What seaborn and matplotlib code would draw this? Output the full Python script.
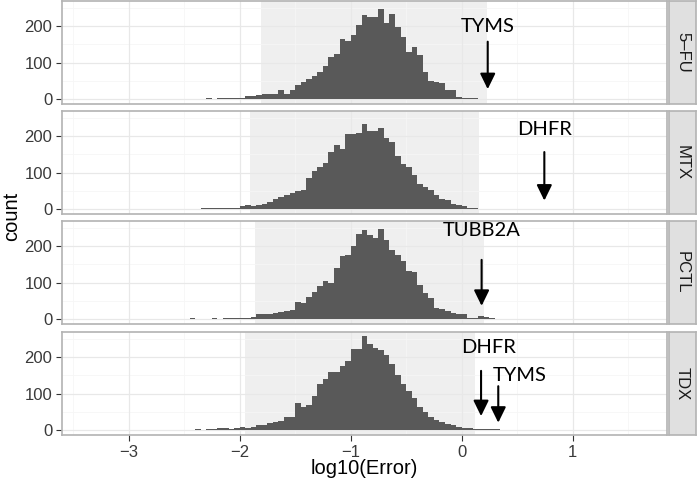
import matplotlib
matplotlib.use('Agg')
import matplotlib.pyplot as plt
import numpy as np
import pandas as pd
import seaborn as sns

# histogram counts, bins of width 0.05; *_start is the left edge of the first bin
drugs = ['5–FU', 'MTX', 'PCTL', 'TDX']
bin_width = 0.05

fu_start = -2.20
fu_counts = [2, 2, 3, 3, 4, 7, 8, 10, 13, 13, 15, 25, 15, 25, 38, 47, 54, 63, 75, 91,
             114, 122, 164, 159, 175, 203, 230, 226, 224, 247, 209, 233, 198, 171, 130,
             142, 121, 75, 49, 47, 43, 25, 26, 6, 4, 2, 2]
fu_tail_x = [-3.35, -3.30, -2.90, -2.80, -2.70, -2.55, -2.45, -2.40, -2.30, -2.25,
             0.15, 0.20, 0.35, 0.75, 1.50]
fu_tail_n = [1, 1, 1, 1, 1, 1, 1, 1, 2, 1, 1, 1, 1, 1, 1]

mtx_start = -2.05
mtx_counts = [2, 8, 10, 9, 10, 15, 20, 28, 33, 38, 45, 50, 51, 85, 104, 115, 127, 157,
              176, 165, 206, 205, 207, 232, 215, 214, 221, 194, 183, 146, 124, 116, 92,
              69, 60, 51, 37, 28, 24, 13, 10, 9, 3, 2]
mtx_tail_x = [-3.30, -2.50, -2.45, -2.40, -2.35, -2.30, -2.25, -2.20, -2.15, -2.10,
              0.20, 0.25, 0.35, 0.45, 0.55, 0.70, 1.50]
mtx_tail_n = [1, 1, 1, 1, 2, 2, 3, 3, 4, 2, 1, 1, 1, 1, 1, 1, 1]

pctl_start = -2.10
pctl_counts = [2, 3, 3, 4, 5, 13, 15, 15, 17, 20, 22, 25, 47, 44, 59, 75, 91, 105, 100,
               140, 173, 175, 200, 233, 243, 229, 223, 247, 217, 190, 176, 160, 131, 128,
               92, 71, 58, 31, 28, 22, 17, 13, 15, 2, 2, 7, 6, 2]
pctl_tail_x = [-3.20, -2.70, -2.45, -2.40, -2.30, -2.25, -2.20, -2.15, 0.30, 1.10]
pctl_tail_n = [1, 1, 2, 1, 1, 2, 1, 2, 1, 1]

tdx_start = -2.30
tdx_counts = [2, 2, 6, 6, 3, 5, 7, 5, 9, 13, 15, 19, 22, 25, 35, 36, 73, 62, 69, 92,
              127, 141, 159, 160, 175, 189, 221, 221, 257, 235, 225, 218, 205, 180, 151,
              127, 107, 89, 62, 48, 36, 27, 21, 16, 13, 9, 5, 6, 4, 2, 2, 3, 3]
tdx_tail_x = [-3.30, -2.65, -2.55, -2.50, -2.40, -2.35, 0.60, 1.20]
tdx_tail_n = [1, 1, 1, 1, 2, 1, 1, 1]

# shaded interval and annotated genes per drug
shade_lo = [-1.81, -1.91, -1.86, -1.95]
shade_hi = [0.225, 0.16, 0.20, 0.12]
gene_names = [['TYMS'], ['DHFR'], ['TUBB2A'], ['DHFR', 'TYMS']]
gene_x = [[0.235], [0.745], [0.18], [0.175, 0.33]]

series = [(fu_start, fu_counts, fu_tail_x, fu_tail_n),
          (mtx_start, mtx_counts, mtx_tail_x, mtx_tail_n),
          (pctl_start, pctl_counts, pctl_tail_x, pctl_tail_n),
          (tdx_start, tdx_counts, tdx_tail_x, tdx_tail_n)]

rows = []
for drug, (start, counts, tx, tn) in zip(drugs, series):
    for i, n in enumerate(counts):
        rows.append((drug, start + i * bin_width + bin_width / 2, n))
    for x, n in zip(tx, tn):
        rows.append((drug, x + bin_width / 2, n))
df = pd.DataFrame(rows, columns=['drug', 'x', 'n'])

sns.set_style('white')
plt.rcParams['font.family'] = ['Liberation Sans', 'DejaVu Sans']

W, H = 697, 487
fig = plt.figure(figsize=(W / 100, H / 100), dpi=100)
tops = [1, 111, 221, 332]
ph = 103
left, right = 62, 667

# (text y, arrow start y, arrow end y) in counts
txt_pos = [[(198, 157, 27)], [(218, 156, 23)], [(242, 162, 36)],
           [(226, 162, 38), (150, 120, 20)]]
txt_x = [[0.235], [0.745], [0.18], [0.24, 0.52]]

grey = '#B3B3B3'
for k, drug in enumerate(drugs):
    ax = fig.add_axes([left / W, 1 - (tops[k] + ph) / H, (right - left) / W, ph / H])
    ax.axvspan(shade_lo[k], shade_hi[k], color='#EFEFEF', zorder=0, lw=0)
    for gx in [-3.5, -2.5, -1.5, -0.5, 0.5, 1.5]:
        ax.axvline(gx, color='#F6F6F6', lw=0.6, zorder=0.5)
    for gy in [50, 150, 250]:
        ax.axhline(gy, color='#F6F6F6', lw=0.6, zorder=0.5)
    for gx in [-3, -2, -1, 0, 1]:
        ax.axvline(gx, color='#E8E8E8', lw=0.9, zorder=0.6)
    for gy in [0, 100, 200]:
        ax.axhline(gy, color='#E8E8E8', lw=0.9, zorder=0.6)
    sns.histplot(data=df[df.drug == drug], x='x', weights='n',
                 binwidth=bin_width, binrange=(-3.35, 1.60),
                 element='step', fill=True, color='#595959', alpha=1, linewidth=0,
                 ax=ax, zorder=2)
    ax.set_xlim(-3.6, 1.85)
    ax.set_ylim(-13.7, 268.5)
    for (ty, y0, y1), name, ax_x, tx in zip(txt_pos[k], gene_names[k], gene_x[k], txt_x[k]):
        ax.annotate('', xy=(ax_x, y1), xytext=(ax_x, y0),
                    arrowprops=dict(arrowstyle='-|>,head_length=0.45,head_width=0.22',
                                    color='black', lw=1.5, mutation_scale=21,
                                    shrinkA=0, shrinkB=0), zorder=5)
        ax.text(tx, ty, name, ha='center', va='center', fontsize=14.5,
                family=['Lato', 'DejaVu Sans'], color='black', zorder=5)
    ax.set_xlabel('')
    ax.set_ylabel('')
    ax.set_yticks([0, 100, 200])
    ax.set_xticks([-3, -2, -1, 0, 1])
    ax.set_xticklabels(['−3', '−2', '−1', '0', '1'])
    ax.tick_params(axis='both', length=4, width=0.8, color='#333333',
                   labelsize=12, labelcolor='#3A3A3A', pad=3, direction='out')
    ax.tick_params(axis='x', bottom=(k == 3), labelbottom=(k == 3))
    ax.tick_params(axis='y', left=True)
    for s in ax.spines.values():
        s.set_visible(True)
        s.set_color(grey)
        s.set_linewidth(1.2)
    # strip on the right
    sax = fig.add_axes([669 / W, 1 - (tops[k] + ph) / H, 27 / W, ph / H])
    sax.set_facecolor('#E0E0E0')
    sax.set_xticks([])
    sax.set_yticks([])
    for s in sax.spines.values():
        s.set_visible(True)
        s.set_color(grey)
        s.set_linewidth(1.2)
    sax.text(0.5, 0.5, drug, rotation=-90, ha='center', va='center',
             fontsize=12, color='#1A1A1A', transform=sax.transAxes)

fig.text(12 / W, 1 - 216 / H, 'count', rotation=90, ha='center', va='center',
         fontsize=14.5, color='black')
fig.text(364 / W, 1 - 469 / H, 'log10(Error)', ha='center', va='center',
         fontsize=14.5, color='black')

fig.savefig('out.png', dpi=100)
